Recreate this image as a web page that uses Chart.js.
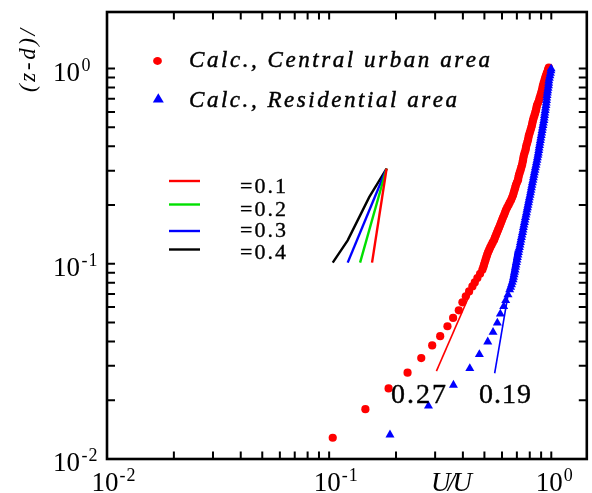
<!DOCTYPE html>
<html><head><meta charset="utf-8">
<script src="https://cdn.jsdelivr.net/npm/chart.js@4"></script>
<style>html,body{margin:0;padding:0;background:#fff}canvas{display:block}</style>
</head><body>
<canvas id="c" width="592" height="493"></canvas>
<script>
// ---------- data ----------
const centralLabel = 'Calc., Central urban area';
const residLabel = 'Calc., Residential area';
const centralX = [0.1038,0.1456,0.1852,0.2254,0.2598,0.2910,0.3161,0.3409,0.3615,0.3834,0.3980,0.4123,0.4266,0.4414,0.4525,0.4648,0.478,0.4895,
  0.498,0.506,0.514,0.525,0.538,0.553,0.564,0.576,0.588,0.600,0.613,0.625,0.642,0.659,0.673,0.683,0.693,0.708,0.715,0.727,0.738,0.746,0.753,0.765,0.773,0.785,0.793,0.806,0.818,0.827,0.840,0.853,0.862,0.880,0.893,0.907,0.917,0.931,0.946,0.965,0.975,
  0.494,0.502,0.510,0.519,0.531,0.545,0.558,0.570,0.582,0.594,0.606,0.619,0.633,0.650,0.666,0.678,0.688,0.700,0.711,0.721,0.732,0.742,0.749,0.759,0.769,0.779,0.789,0.800,0.812,0.822,0.833,0.846,0.857,0.871,0.886,0.900,0.912,0.924,0.938,0.955,0.970];
const centralY = [0.01285,0.01799,0.0230,0.02769,0.03287,0.03818,0.04256,0.04788,0.05284,0.05777,0.06347,0.06812,0.07222,0.0766,0.0803,0.0845,0.0889,0.0932,
  0.0988,0.1048,0.1111,0.1178,0.1250,0.1325,0.1406,0.1491,0.1581,0.1677,0.1778,0.1886,0.2000,0.2121,0.2249,0.2385,0.2529,0.2683,0.2845,0.3017,0.3199,0.3393,0.3598,0.3816,0.4047,0.4292,0.4551,0.4827,0.5119,0.5429,0.5757,0.6105,0.6475,0.6866,0.7282,0.7722,0.8190,0.8685,0.9210,0.9767,1.012,
  0.0960,0.1018,0.1079,0.1144,0.1213,0.1287,0.1365,0.1448,0.1535,0.1628,0.1727,0.1831,0.1942,0.2060,0.2184,0.2316,0.2456,0.2605,0.2763,0.2930,0.3107,0.3295,0.3494,0.3705,0.3930,0.4168,0.4420,0.4687,0.4971,0.5272,0.5591,0.5929,0.6287,0.6667,0.7071,0.7499,0.7953,0.8434,0.8944,0.9485,0.9940];
const residX = [0.1879,0.2800,0.3627,0.4297,0.4745,0.5176,0.5468,0.5717,0.5898,0.6106,0.6234,0.6385,0.6497,
  0.662,0.673,0.680,0.687,0.693,0.701,0.708,0.715,0.723,0.730,0.738,0.746,0.753,0.761,0.769,0.777,0.785,0.793,0.802,0.810,0.818,0.827,0.835,0.844,0.853,0.862,0.871,0.878,0.885,0.893,0.901,0.909,0.917,0.926,0.932,0.939,0.946,0.952,0.957,0.963,0.971,0.975,0.986,0.996,
  0.656,0.667,0.676,0.683,0.690,0.697,0.704,0.711,0.719,0.726,0.734,0.742,0.749,0.757,0.765,0.773,0.781,0.789,0.797,0.806,0.814,0.822,0.831,0.839,0.848,0.857,0.866,0.874,0.881,0.889,0.897,0.905,0.913,0.921,0.929,0.935,0.942,0.949,0.954,0.960,0.967,0.973,0.980,0.991,0.998];
const residY = [0.01330,0.01870,0.02393,0.02912,0.03433,0.03986,0.04462,0.04982,0.05536,0.06053,0.06497,0.06947,0.07368,
  0.0781,0.0829,0.0879,0.0932,0.0988,0.1048,0.1111,0.1178,0.1250,0.1325,0.1406,0.1491,0.1581,0.1677,0.1778,0.1886,0.2000,0.2121,0.2249,0.2385,0.2529,0.2683,0.2845,0.3017,0.3199,0.3393,0.3598,0.3816,0.4047,0.4292,0.4551,0.4827,0.5119,0.5429,0.5757,0.6105,0.6475,0.6866,0.7282,0.7722,0.8190,0.8685,0.9210,0.9767,
  0.0759,0.0805,0.0854,0.0905,0.0960,0.1018,0.1079,0.1144,0.1213,0.1287,0.1365,0.1448,0.1535,0.1628,0.1727,0.1831,0.1942,0.2060,0.2184,0.2316,0.2456,0.2605,0.2763,0.2930,0.3107,0.3295,0.3494,0.3705,0.3930,0.4168,0.4420,0.4687,0.4971,0.5272,0.5591,0.5929,0.6287,0.6667,0.7071,0.7499,0.7953,0.8434,0.8944,0.9485,1.000];
// fitted power-law lines and their labels
const fitLabels = ['0.27', '0.19'];
const fitX = [[0.304, 0.524], [0.556, 0.691]];
const fitY = [[0.0282, 0.1173], [0.0275, 0.1173]];
const fitLabelX = [0.190, 0.473];
const fitLabelY = [0.0193, 0.0193];
// exponent fan (schematic) and its legend
const fanLabels = ['=0.1', '=0.2', '=0.3', '=0.4'];
const fanX = [[0.1560, 0.1814], [0.1378, 0.1814], [0.1212, 0.1814], [0.1038, 0.1212, 0.1517, 0.1814]];
const fanY = [[0.1014, 0.3077], [0.1014, 0.3077], [0.1014, 0.3077], [0.1014, 0.1319, 0.2201, 0.3077]];
// axes
const xMin = 0.01, xMax = 1.445, yMin = 0.01, yMax = 1.95;
const xTickValues = [0.01, 0.1, 1];
const xTickExps = ['-2', '-1', '0'];
const yTickValues = [0.01, 0.1, 1];
const yTickExps = ['-2', '-1', '0'];
const xTitle = 'U/U';
const yTitle = '(z-d)/';

// ---------- styles ----------
const fanColors = ['#ff0000', '#00e000', '#0000ff', '#000000'];
const SERIF = '"Liberation Serif", "Times New Roman", serif';

const pts = (xs, ys) => xs.map((x, i) => ({x, y: ys[i]}));

const datasets = [
  {label: residLabel, data: pts(residX, residY), showLine: false, pointStyle: 'triangle', pointRadius: 5.2,
   backgroundColor: '#0000ff', borderColor: '#0000ff', borderWidth: 0},
  {label: centralLabel, data: pts(centralX, centralY), showLine: false, pointStyle: 'circle', pointRadius: 4.1,
   backgroundColor: '#ff0000', borderColor: '#ff0000', borderWidth: 0},
];
fitX.forEach((xs, i) => datasets.push({label: 'fit ' + fitLabels[i], data: pts(xs, fitY[i]), showLine: true,
  pointRadius: 0, borderColor: i === 0 ? '#ff0000' : '#0000ff', borderWidth: 1.6, fill: false}));
fanX.forEach((xs, i) => datasets.push({label: fanLabels[i], data: pts(xs, fanY[i]), showLine: true,
  pointRadius: 0, borderColor: fanColors[i], borderWidth: 2.4, fill: false, tension: 0}));

function spacedText(ctx, text, x, y, spacing, heavy) {
  let cx = x;
  for (const ch of text) {
    ctx.fillText(ch, cx, y);
    if (heavy) ctx.strokeText(ch, cx, y);
    cx += ctx.measureText(ch).width + spacing;
  }
  return cx - spacing;
}
function fitText(ctx, text, x, y, target, heavy) {
  const w = [...text].reduce((s, ch) => s + ctx.measureText(ch).width, 0);
  const n = [...text].length;
  return spacedText(ctx, text, x, y, (target - w) / (n - 1), heavy);
}

const decor = {
  id: 'decor',
  afterDraw(chart) {
    const ctx = chart.ctx, a = chart.chartArea;
    const xs = chart.scales.x, ys = chart.scales.y;
    ctx.save();
    // frame
    ctx.strokeStyle = '#000'; ctx.lineWidth = 2.6;
    ctx.strokeRect(a.left, a.top, a.right - a.left, a.bottom - a.top);
    // ticks
    ctx.lineWidth = 2;
    const tl = 7.5;
    for (let e = -2; e <= 0; e++) for (let m = 1; m <= 9; m++) {
      const v = m * Math.pow(10, e);
      if (v >= xMin && v <= xMax) {
        const px = xs.getPixelForValue(v);
        ctx.beginPath(); ctx.moveTo(px, a.bottom); ctx.lineTo(px, a.bottom - tl);
        ctx.moveTo(px, a.top); ctx.lineTo(px, a.top + tl); ctx.stroke();
      }
      if (v >= yMin && v <= yMax) {
        const py = ys.getPixelForValue(v);
        ctx.beginPath(); ctx.moveTo(a.left, py); ctx.lineTo(a.left + tl + 0.5, py);
        ctx.moveTo(a.right, py); ctx.lineTo(a.right - tl - 0.5, py); ctx.stroke();
      }
    }
    ctx.fillStyle = '#000';
    ctx.textBaseline = 'alphabetic'; ctx.textAlign = 'left';
    // x tick labels
    xTickValues.forEach((v, i) => {
      const px = xs.getPixelForValue(v);
      ctx.font = '27px ' + SERIF;
      const w = ctx.measureText('10').width;
      const lx = px - 2 - w / 2;
      ctx.fillText('10', lx, 491);
      ctx.font = '18px ' + SERIF;
      spacedText(ctx, xTickExps[i], lx + w + 1, 481, 1);
    });
    // y tick labels
    yTickValues.forEach((v, i) => {
      const py = ys.getPixelForValue(v);
      ctx.font = '27px ' + SERIF;
      const w = ctx.measureText('10').width;
      ctx.fillText('10', 53, py + 12);
      ctx.font = '18px ' + SERIF;
      spacedText(ctx, yTickExps[i], 53 + w + 1.5, py + 2, 1);
    });
    // axis titles
    ctx.strokeStyle = '#000'; ctx.lineWidth = 0.5;
    ctx.font = 'italic 27px ' + SERIF;
    fitText(ctx, xTitle, 431, 491, 41);
    ctx.save();
    ctx.translate(29, 92); ctx.rotate(-Math.PI / 2);
    ctx.font = 'italic 23px ' + SERIF; ctx.textBaseline = 'middle';
    fitText(ctx, yTitle, 0, 0, 63);
    ctx.restore();
    // legend (markers)
    ctx.fillStyle = '#ff0000';
    ctx.beginPath(); ctx.ellipse(157.5, 61, 4.4, 3.9, 0, 0, Math.PI * 2); ctx.fill();
    ctx.fillStyle = '#0000ff';
    ctx.beginPath(); ctx.moveTo(158.3, 93.3); ctx.lineTo(163.8, 102.6); ctx.lineTo(152.8, 102.6); ctx.closePath(); ctx.fill();
    ctx.fillStyle = '#000'; ctx.strokeStyle = '#000'; ctx.lineWidth = 0.45;
    ctx.font = 'italic 23px ' + SERIF;
    fitText(ctx, centralLabel, 189, 67, 301, true);
    fitText(ctx, residLabel, 189, 107, 268, true);
    // fan legend
    const ly = [181, 204.5, 231, 249.5];
    const tb = [193, 215.5, 237, 259];
    fanLabels.forEach((t, i) => {
      ctx.strokeStyle = fanColors[i]; ctx.lineWidth = 2.4;
      ctx.beginPath(); ctx.moveTo(169, ly[i]); ctx.lineTo(200, ly[i]); ctx.stroke();
      ctx.fillStyle = '#000'; ctx.strokeStyle = '#000'; ctx.lineWidth = 0.35; ctx.font = '22px ' + SERIF;
      fitText(ctx, t, 240, tb[i], 46, true);
    });
    // fit labels
    ctx.font = '28px ' + SERIF; ctx.strokeStyle = '#000'; ctx.lineWidth = 0.4;
    fitLabels.forEach((t, i) => {
      fitText(ctx, t, xs.getPixelForValue(fitLabelX[i]), ys.getPixelForValue(fitLabelY[i]), i === 0 ? 55 : 52, true);
    });
    ctx.restore();
  }
};

new Chart(document.getElementById('c'), {
  type: 'scatter',
  data: {datasets},
  options: {
    responsive: false, animation: false, devicePixelRatio: 1,
    layout: {padding: {left: 107, top: 12, right: 4, bottom: 34}},
    plugins: {legend: {display: false}, tooltip: {enabled: false}},
    scales: {
      x: {type: 'logarithmic', min: xMin, max: xMax, display: false},
      y: {type: 'logarithmic', min: yMin, max: yMax, display: false}
    },
    elements: {line: {tension: 0}}
  },
  plugins: [decor]
});
</script>
</body></html>
